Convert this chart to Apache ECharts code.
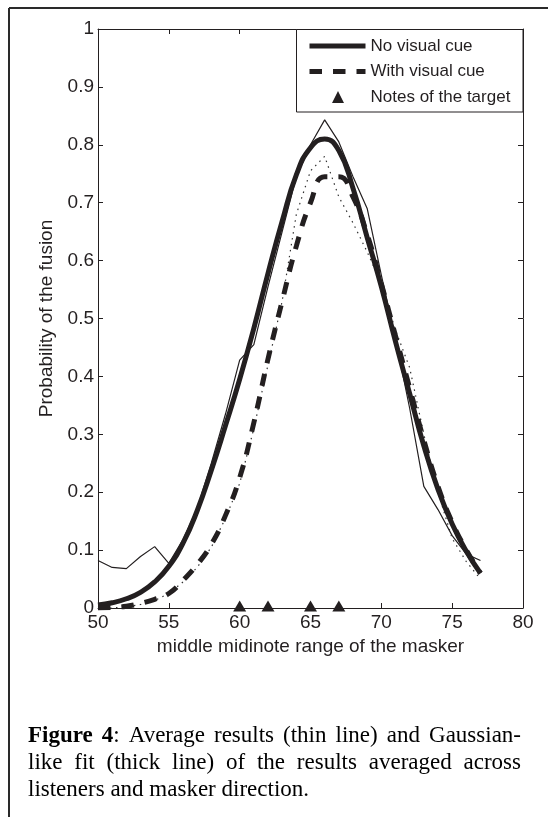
<!DOCTYPE html>
<html>
<head>
<meta charset="utf-8">
<script src="https://cdn.jsdelivr.net/npm/echarts@6/dist/echarts.min.js"></script>
<style>
html,body{margin:0;padding:0;background:#fff;}
#c{width:548px;height:817px;}
</style>
</head>
<body>
<div id="c"></div>
<script>
// ---- data ----
const midinotes     = [50,51,52,53,54,55,56,57,58,59,60,61,62,63,64,65,66,67,68,69,70,71,72,73,74,75,76,77];
const noCueAverage  = [0.082,0.070,0.068,0.089,0.106,0.077,0.118,0.172,0.250,0.335,0.428,0.455,0.555,0.650,0.745,0.800,0.843,0.805,0.745,0.690,0.575,0.465,0.345,0.210,0.170,0.125,0.093,0.082];
const noCueFit      = [0.005,0.009,0.016,0.027,0.045,0.072,0.112,0.168,0.238,0.315,0.395,0.483,0.578,0.668,0.748,0.795,0.810,0.790,0.725,0.640,0.555,0.460,0.370,0.280,0.205,0.145,0.098,0.060];
const cueAverage    = [0.000,0.000,0.002,0.006,0.013,0.025,0.045,0.070,0.105,0.155,0.215,0.310,0.420,0.530,0.680,0.755,0.780,0.710,0.665,0.615,0.560,0.480,0.415,0.300,0.200,0.120,0.080,0.050];
const cueFit        = [0.000,0.001,0.003,0.008,0.015,0.025,0.048,0.075,0.110,0.160,0.225,0.320,0.430,0.530,0.625,0.700,0.745,0.745,0.710,0.645,0.560,0.470,0.380,0.290,0.210,0.148,0.100,0.060];
const targetNotes   = [60,62,65,67];
const legendNames   = ['No visual cue','With visual cue','Notes of the target'];
const xAxisTitle    = 'middle midinote range of the masker';
const yAxisTitle    = 'Probability of the fusion';
const captionLines  = [
  'Figure 4: Average results (thin line) and Gaussian-',
  'like fit (thick line) of the results averaged across',
  'listeners and masker direction.'
];
const captionBoldWords = ['Figure','4'];

// ---- styling ----
const INK = '#231f20';
const SANS = '"Liberation Sans", Arial, Helvetica, sans-serif';
const SERIF = '"Liberation Serif", "Times New Roman", serif';
const CAP_SIZE = 23;
const CAP_LEFT = 28, CAP_RIGHT = 521;
const CAP_Y = [736, 763, 790];
const FIT_DASH = [12.5, 11];
// legend triangle icon: tiny corner anchors keep the 56x12 icon box, triangle sits in the middle
const TRIANGLE_ICON = 'path://M0,0L0.001,0L0,0.001Z M56,12L55.999,12L56,11.999Z M22.5,12L28.5,0L34.5,12Z';

const pairs = (ys) => midinotes.map((x, i) => [x, ys[i]]);

// caption, justified like the printed page
const mctx = document.createElement('canvas').getContext('2d');
function tw(t, bold) {
  mctx.font = (bold ? 'bold ' : '') + CAP_SIZE + 'px ' + SERIF;
  return mctx.measureText(t).width;
}
const captionGraphics = [];
captionLines.forEach((line, li) => {
  const words = line.split(' ');
  const wordRuns = words.map((wd, wi) => {
    if (li === 0 && wi < captionBoldWords.length) {
      const b = captionBoldWords[wi];
      const rest = wd.slice(b.length);
      const runs = [{t: b, bold: true}];
      if (rest) runs.push({t: rest, bold: false});
      return runs;
    }
    return [{t: wd, bold: false}];
  });
  const widths = wordRuns.map(r => r.reduce((s, run) => s + tw(run.t, run.bold), 0));
  const total = widths.reduce((a, b) => a + b, 0);
  const justify = li < captionLines.length - 1;
  const gap = justify ? (CAP_RIGHT - CAP_LEFT - total) / (words.length - 1) : tw(' ', false);
  let x = CAP_LEFT;
  wordRuns.forEach((runs, wi) => {
    let rx = x;
    runs.forEach(run => {
      captionGraphics.push({
        type: 'text', x: rx, y: CAP_Y[li], z: 10,
        style: {
          text: run.t, fill: '#000', fontSize: CAP_SIZE, fontFamily: SERIF,
          fontWeight: run.bold ? 'bold' : 'normal', align: 'left', verticalAlign: 'middle'
        }
      });
      rx += tw(run.t, run.bold);
    });
    x += widths[wi] + gap;
  });
});

const axisCommon = {
  type: 'value',
  axisLine: {show: true, onZero: false, lineStyle: {color: INK, width: 1}},
  axisTick: {show: true, inside: true, length: 5, lineStyle: {color: INK, width: 1}},
  splitLine: {show: false}
};

const chart = echarts.init(document.getElementById('c'), null, {renderer: 'canvas'});
chart.setOption({
  animation: false,
  backgroundColor: '#ffffff',
  textStyle: {fontFamily: SANS},
  grid: {left: 98, right: 25, top: 29, bottom: 209, containLabel: false},
  xAxis: [
    Object.assign({}, axisCommon, {
      min: 50, max: 80, interval: 5, position: 'bottom',
      name: xAxisTitle, nameLocation: 'middle', nameGap: 29,
      nameTextStyle: {fontSize: 19, color: INK, fontFamily: SANS},
      axisLabel: {fontSize: 19, color: INK, margin: 5, fontFamily: SANS}
    }),
    Object.assign({}, axisCommon, {
      min: 50, max: 80, interval: 5, position: 'top', axisLabel: {show: false}
    })
  ],
  yAxis: [
    Object.assign({}, axisCommon, {
      min: 0, max: 1, interval: 0.1, position: 'left',
      name: yAxisTitle, nameLocation: 'middle', nameGap: 42,
      nameTextStyle: {fontSize: 19, color: INK, fontFamily: SANS},
      axisLabel: {fontSize: 19, color: INK, margin: 4, fontFamily: SANS}
    }),
    Object.assign({}, axisCommon, {
      min: 0, max: 1, interval: 0.1, position: 'right', axisLabel: {show: false}
    })
  ],
  legend: {
    orient: 'vertical', left: 307, top: 33.25, padding: 0, itemGap: 0,
    itemWidth: 56, itemHeight: 12, selectedMode: false,
    textStyle: {fontSize: 17, color: INK, lineHeight: 25.5, fontFamily: SANS},
    data: [
      {name: legendNames[0], itemStyle: {opacity: 0},
       lineStyle: {color: INK, width: 5, type: 'solid', opacity: 1}},
      {name: legendNames[1], itemStyle: {opacity: 0},
       lineStyle: {color: INK, width: 5, type: FIT_DASH, opacity: 1}},
      {name: legendNames[2], icon: TRIANGLE_ICON, itemStyle: {color: INK, opacity: 1}}
    ]
  },
  graphic: [
    {type: 'rect', z: 3, shape: {x: 296.5, y: 29.5, width: 226.5, height: 82.5},
     style: {fill: '#fff', stroke: INK, lineWidth: 1}},
    {type: 'line', z: 10, shape: {x1: 9, y1: 8, x2: 548, y2: 8}, style: {stroke: '#2a2a2a', lineWidth: 2}},
    {type: 'line', z: 10, shape: {x1: 9, y1: 8, x2: 9, y2: 817}, style: {stroke: '#2a2a2a', lineWidth: 2}}
  ].concat(captionGraphics),
  series: [
    {
      name: 'No visual cue (average)', type: 'line', data: pairs(noCueAverage),
      symbol: 'none', z: 2, lineStyle: {color: INK, width: 1.2}, itemStyle: {color: INK}
    },
    {
      name: legendNames[0], type: 'line', data: pairs(noCueFit), smooth: 0.5,
      symbol: 'none', z: 3, lineStyle: {color: INK, width: 5}, itemStyle: {color: INK}
    },
    {
      name: 'With visual cue (average)', type: 'line', data: pairs(cueAverage),
      symbol: 'none', z: 2, lineStyle: {color: '#333', width: 1.2, type: [1.5, 4.5]}, itemStyle: {color: '#333'}
    },
    {
      name: legendNames[1], type: 'line', data: pairs(cueFit), smooth: 0.5,
      symbol: 'none', z: 4, lineStyle: {color: INK, width: 5, type: FIT_DASH}, itemStyle: {color: INK}
    },
    {
      name: legendNames[2], type: 'scatter', data: targetNotes.map(n => [n, 0]),
      symbol: 'triangle', symbolSize: [13, 11], symbolOffset: [0, -2], z: 5,
      itemStyle: {color: INK, opacity: 1}
    }
  ]
});
</script>
</body>
</html>
